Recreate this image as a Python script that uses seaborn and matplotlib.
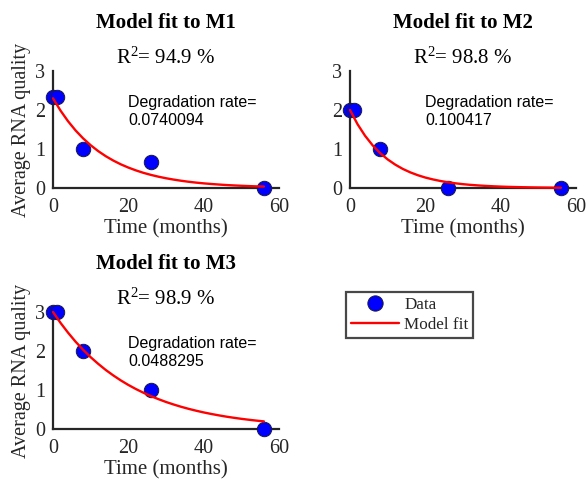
import matplotlib
matplotlib.use("Agg")
import matplotlib.pyplot as plt
import seaborn as sns
from matplotlib.lines import Line2D

# ---------------- data ----------------
time_points = [0, 1, 8, 26, 56]
m1_quality = [2.33, 2.33, 1.0, 0.67, 0.0]
m2_quality = [2.0, 2.0, 1.0, 0.0, 0.0]
m3_quality = [3.0, 3.0, 2.0, 1.0, 0.0]

fit_time = [0, 2, 4, 6, 8, 10, 12, 14, 16, 18, 20, 22, 24, 26, 28,
            30, 32, 34, 36, 38, 40, 42, 44, 46, 48, 50, 52, 54, 56]
m1_fit = [2.300, 1.984, 1.711, 1.475, 1.272, 1.097, 0.946, 0.816, 0.704, 0.607,
          0.524, 0.452, 0.389, 0.336, 0.290, 0.250, 0.216, 0.186, 0.160, 0.138,
          0.119, 0.103, 0.089, 0.076, 0.066, 0.057, 0.049, 0.042, 0.037]
m2_fit = [2.000, 1.636, 1.339, 1.095, 0.896, 0.733, 0.600, 0.490, 0.401, 0.328,
          0.268, 0.220, 0.180, 0.147, 0.120, 0.098, 0.080, 0.066, 0.054, 0.044,
          0.036, 0.029, 0.024, 0.020, 0.016, 0.013, 0.011, 0.009, 0.007]
m3_fit = [3.000, 2.721, 2.469, 2.238, 2.032, 1.841, 1.671, 1.514, 1.374, 1.246,
          1.130, 1.025, 0.930, 0.843, 0.765, 0.693, 0.629, 0.570, 0.517, 0.469,
          0.425, 0.386, 0.350, 0.317, 0.288, 0.261, 0.237, 0.215, 0.195]

titles = ["Model fit to M1", "Model fit to M2", "Model fit to M3"]
r2_values = ["94.9", "98.8", "98.9"]
rates = ["0.0740094", "0.100417", "0.0488295"]
x_ticks = [0, 20, 40, 60]
y_ticks = [0, 1, 2, 3]

# ---------------- style ----------------
sns.set_theme(style="white")
plt.rcParams["font.family"] = ["Liberation Serif", "DejaVu Serif"]
plt.rcParams["mathtext.fontset"] = "custom"
plt.rcParams["mathtext.rm"] = "Liberation Serif"
plt.rcParams["mathtext.default"] = "regular"

W, H = 587, 483
fig = plt.figure(figsize=(W / 100, H / 100), dpi=100)

axis_col = "#262626"
rects = [
    (53 / W, 1 - 188 / H, 226 / W, 117 / H),
    (350 / W, 1 - 188 / H, 226 / W, 117 / H),
    (53 / W, 1 - 429 / H, 226 / W, 117 / H),
]
series = [(m1_quality, m1_fit), (m2_quality, m2_fit), (m3_quality, m3_fit)]

for i, (rect, (q, fit)) in enumerate(zip(rects, series)):
    ax = fig.add_axes(rect)
    sns.scatterplot(x=time_points, y=q, ax=ax, s=108, color="#0000ff",
                    edgecolor="#1a1a40", linewidth=0.7, zorder=3, clip_on=False)
    sns.lineplot(x=fit_time, y=fit, ax=ax, color="red", lw=1.7, zorder=4)
    for ln in ax.lines:
        ln.set_clip_on(False)
    ax.set_xlim(0, 60)
    ax.set_ylim(0, 3)
    ax.set_xticks(x_ticks)
    ax.set_yticks(y_ticks)
    sns.despine(ax=ax)
    for side in ("left", "bottom"):
        ax.spines[side].set_color(axis_col)
        ax.spines[side].set_linewidth(1.6)
    ax.tick_params(direction="in", length=3.5, width=1.2, colors=axis_col,
                   labelsize=14.5)
    ax.tick_params(axis="x", pad=7)
    ax.tick_params(axis="y", pad=5.5)
    ax.set_xlabel("Time (months)", fontsize=15, color=axis_col, labelpad=2)
    if i != 1:
        ax.set_ylabel("Average RNA quality", fontsize=14.5, color=axis_col, labelpad=3)
    ax.text(0.5, 1.41, titles[i], transform=ax.transAxes, ha="center", va="center",
            fontsize=15, fontweight="bold", color="black")
    ax.text(0.5, 1.11, "R$^{2}$= " + r2_values[i] + " %", transform=ax.transAxes,
            ha="center", va="center", fontsize=15, color="black")
    ax.text(20, 1.95, "Degradation rate=\n" + rates[i], ha="left", va="center",
            fontsize=11.5, family=["Liberation Sans", "DejaVu Sans"],
            linespacing=1.25, color="black")

handles = [
    Line2D([], [], marker="o", linestyle="none", markersize=11,
           markerfacecolor="#0000ff", markeredgecolor="#1a1a40", markeredgewidth=0.7),
    Line2D([], [], color="red", lw=1.7),
]
leg = fig.legend(handles, ["Data", "Model fit"], loc="upper left",
                 bbox_to_anchor=(346 / W, 1 - 292 / H), fontsize=12.3,
                 frameon=True, fancybox=False, handlelength=2.8,
                 handletextpad=0.3, labelspacing=0.2, borderpad=0.3,
                 borderaxespad=0)
leg.get_frame().set_edgecolor("#1a1a1a")
leg.get_frame().set_linewidth(1.6)

fig.savefig("out.png", dpi=100)
